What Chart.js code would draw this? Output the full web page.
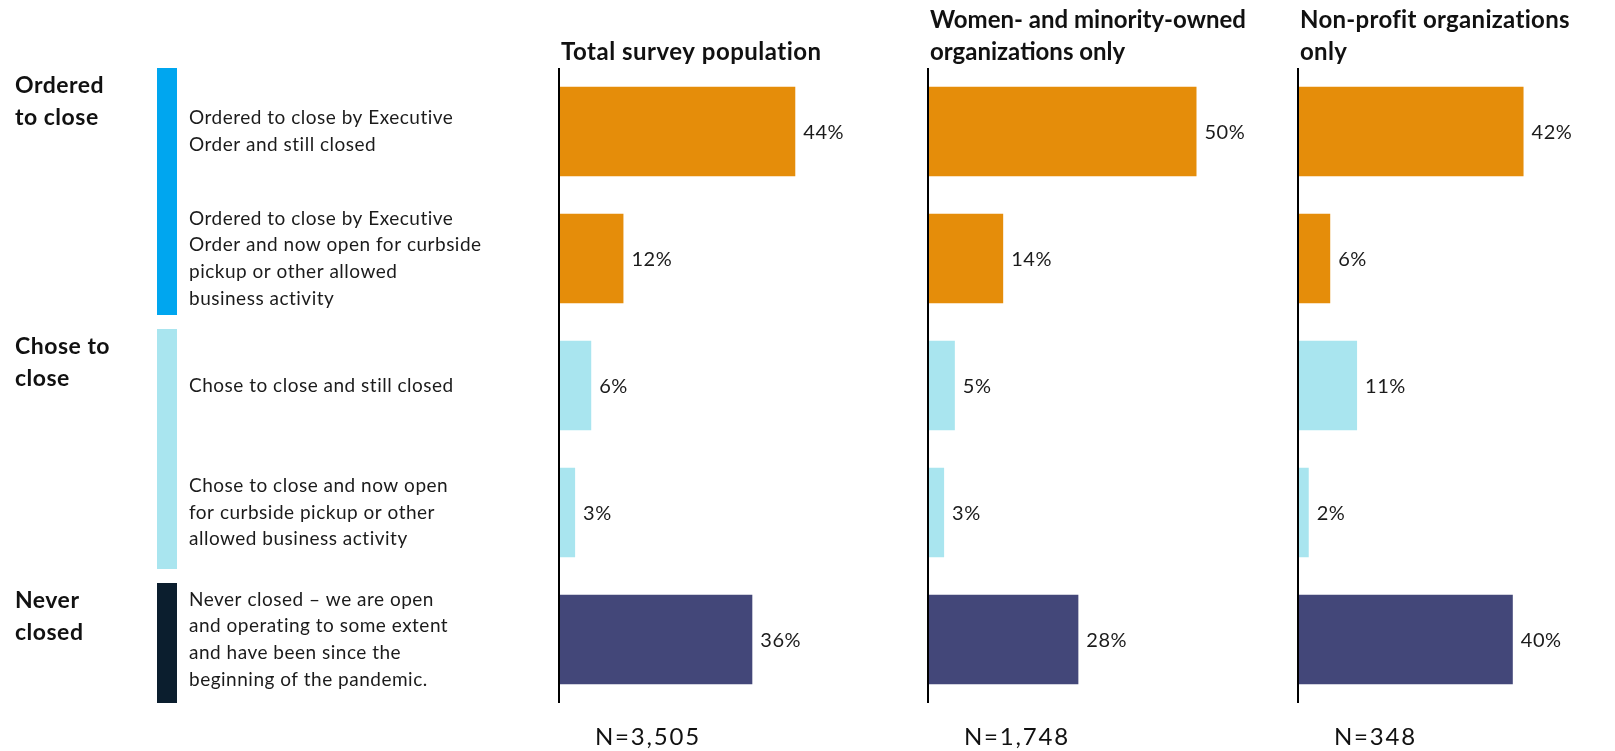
<!DOCTYPE html>
<html>
<head>
<meta charset="utf-8">
<title>Business closure status</title>
<style>
  html, body { margin: 0; padding: 0; background: #fff; }
  #wrap { position: relative; width: 1615px; height: 751px; overflow: hidden; }
  .panel { position: absolute; top: 0; }
  canvas { display: block; }
</style>
<script src="https://cdn.jsdelivr.net/npm/chart.js@4.4.1/dist/chart.umd.min.js"></script>
</head>
<body>
<div id="wrap">
  <div class="panel" style="left:0"><canvas id="c0" width="900" height="751"></canvas></div>
  <div class="panel" style="left:900px"><canvas id="c1" width="370" height="751"></canvas></div>
  <div class="panel" style="left:1270px"><canvas id="c2" width="345" height="751"></canvas></div>
</div>
<script>
/* ---------- data ---------- */
var categories = [
  ['Ordered to close by Executive', 'Order and still closed'],
  ['Ordered to close by Executive', 'Order and now open for curbside', 'pickup or other allowed', 'business activity'],
  ['Chose to close and still closed'],
  ['Chose to close and now open', 'for curbside pickup or other', 'allowed business activity'],
  ['Never closed \u2013 we are open', 'and operating to some extent', 'and have been since the', 'beginning of the pandemic.']
];
var groupNames = [['Ordered', 'to close'], ['Chose to', 'close'], ['Never', 'closed']];
var groupRows = [[0, 1], [2, 3], [4, 4]];

var totalPct = [44, 12, 6, 3, 36];
var womenMinorityPct = [50, 14, 5, 3, 28];
var nonprofitPct = [42, 6, 11, 2, 40];

var panelTitles = [
  ['Total survey population'],
  ['Women- and minority-owned', 'organizations only'],
  ['Non-profit organizations', 'only']
];
var sampleSizes = ['N=3,505', 'N=1,748', 'N=348'];

/* ---------- styles ---------- */
var ORANGE = '#E58D0A', SKY = '#A9E5EF', NAVY = '#434779';
var rowColors = [ORANGE, ORANGE, SKY, SKY, NAVY];
var groupColors = ['#00A6EF', '#A9E5EF', '#0B1E2E'];
var FONT = "Lato, 'Open Sans', sans-serif";
var PX_PER_PCT = 5.37;   // same bar scale in all three panels
var TOP = 68, BOTTOM = 48;

/* widen the type a little (tick labels included) */
var spacing = {
  id: 'spacing',
  beforeDraw: function (chart) { chart.ctx.letterSpacing = '0.5px'; }
};

/* panel chrome: axis line, value labels, title, N, and on the first panel the row groups */
var decor = {
  id: 'decor',
  afterDatasetsDraw: function (chart, args, o) {
    var ctx = chart.ctx, a = chart.chartArea;
    ctx.save();

    // vertical baseline
    ctx.fillStyle = '#000';
    ctx.fillRect(a.left - 1, a.top, 2, a.bottom - a.top);

    // value labels
    var meta = chart.getDatasetMeta(0);
    var vals = chart.data.datasets[0].data;
    ctx.font = '20px ' + FONT;
    ctx.letterSpacing = '0.5px';
    ctx.fillStyle = '#1b1b1b';
    ctx.textAlign = 'left';
    ctx.textBaseline = 'middle';
    meta.data.forEach(function (bar, i) {
      ctx.fillText(vals[i] + '%', bar.x + 8, bar.y + 1);
    });

    // panel title, bottom line sits at a fixed height
    ctx.font = 'bold 24px ' + FONT;
    ctx.letterSpacing = o.titleSpacing;
    ctx.fillStyle = '#111';
    o.title.forEach(function (line, i) {
      ctx.fillText(line, a.left + 2, 52 - (o.title.length - 1 - i) * 32);
    });

    // sample size
    ctx.font = '24px ' + FONT;
    ctx.letterSpacing = '1.8px';
    ctx.fillText(o.n, a.left + 36, 737);
    ctx.letterSpacing = '0.5px';

    // group brackets + labels (first panel only)
    if (o.groups) {
      var y = chart.scales.y;
      var pitch = (a.bottom - a.top) / categories.length;
      groupRows.forEach(function (g, k) {
        var top = y.getPixelForValue(g[0]) - pitch / 2;
        var bot = y.getPixelForValue(g[1]) + pitch / 2;
        if (k > 0) top += 7;
        if (k < groupRows.length - 1) bot -= 7;
        ctx.fillStyle = groupColors[k];
        ctx.fillRect(157, top, 20, bot - top);
        ctx.font = 'bold 23px ' + FONT;
        ctx.fillStyle = '#111';
        groupNames[k].forEach(function (line, j) {
          ctx.fillText(line, 15, top + 18 + j * 32);
        });
      });
    }
    ctx.restore();
  }
};

function makePanel(id, values, idx, opt) {
  var first = idx === 0;
  return new Chart(document.getElementById(id), {
    type: 'bar',
    data: {
      labels: categories,
      datasets: [{
        data: values,
        backgroundColor: rowColors,
        borderWidth: 0,
        barPercentage: 0.705,
        categoryPercentage: 1
      }]
    },
    options: {
      indexAxis: 'y',
      responsive: false,
      animation: false,
      devicePixelRatio: 1,
      layout: { padding: { left: opt.padLeft, right: opt.padRight, top: TOP, bottom: BOTTOM } },
      plugins: {
        legend: { display: false },
        tooltip: { enabled: false },
        decor: { title: panelTitles[idx], n: sampleSizes[idx], groups: first, titleSpacing: opt.titleSpacing }
      },
      scales: {
        x: { display: false, min: 0, max: opt.plotWidth / PX_PER_PCT },
        y: {
          display: first,
          grid: { display: false },
          border: { display: false },
          ticks: {
            autoSkip: false,
            crossAlign: 'far',
            color: '#1b1b1b',
            font: { family: FONT, size: 19, lineHeight: 1.4 }
          },
          afterFit: function (s) {
            if (!first) return;
            s.width = 370; s.paddingTop = 0; s.paddingBottom = 0;
          }
        }
      }
    },
    plugins: [spacing, decor]
  });
}

makePanel('c0', totalPct, 0, { padLeft: 189, padRight: 21, plotWidth: 320, titleSpacing: '0.5px' });
makePanel('c1', womenMinorityPct, 1, { padLeft: 28, padRight: 22, plotWidth: 320, titleSpacing: '0px' });
makePanel('c2', nonprofitPct, 2, { padLeft: 28, padRight: 17, plotWidth: 300, titleSpacing: '0.3px' });
</script>
</body>
</html>
